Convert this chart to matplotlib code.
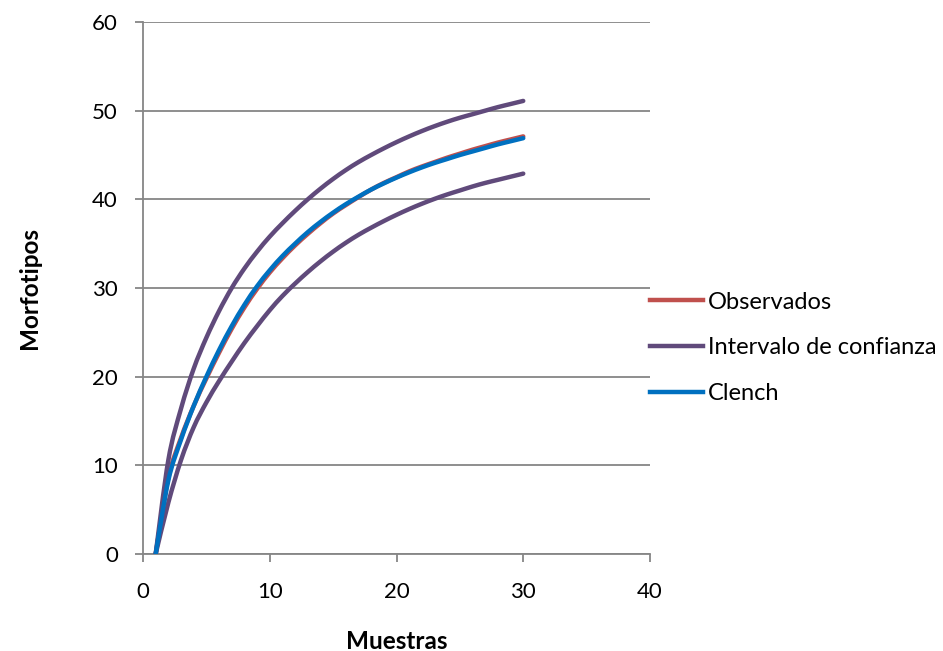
import matplotlib
matplotlib.use("Agg")
import matplotlib.pyplot as plt
from matplotlib.path import Path
from matplotlib.patches import PathPatch
from matplotlib.lines import Line2D

muestras = list(range(1, 31))
observados = [0, 8.6, 13.1, 16.7, 19.8, 22.7, 25.4, 27.8, 29.9, 31.75,
              33.35, 34.8, 36.1, 37.3, 38.4, 39.35, 40.25, 41.1, 41.85, 42.5,
              43.15, 43.7, 44.2, 44.7, 45.15, 45.6, 46.0, 46.4, 46.75, 47.1]
ic_superior = [0, 10.6, 16.4, 20.9, 24.4, 27.4, 30.0, 32.2, 34.1, 35.8,
               37.3, 38.7, 40.0, 41.2, 42.3, 43.3, 44.2, 45.0, 45.75, 46.45,
               47.1, 47.7, 48.25, 48.75, 49.2, 49.6, 50.0, 50.4, 50.75, 51.1]
ic_inferior = [0, 5.8, 10.6, 14.3, 17.1, 19.5, 21.7, 23.8, 25.7, 27.5,
               29.1, 30.5, 31.8, 33.0, 34.1, 35.1, 36.0, 36.8, 37.55, 38.25,
               38.9, 39.5, 40.05, 40.55, 41.0, 41.45, 41.85, 42.2, 42.55, 42.9]
clench = [0, 8.3, 12.9, 16.7, 20.0, 23.0, 25.7, 28.1, 30.2, 32.0,
          33.6, 35.0, 36.3, 37.45, 38.5, 39.45, 40.3, 41.1, 41.8, 42.45,
          43.05, 43.6, 44.1, 44.55, 45.0, 45.4, 45.8, 46.2, 46.55, 46.9]

plt.rcParams['font.family'] = ['Lato', 'DejaVu Sans']

fig = plt.figure(figsize=(9.43, 6.51), dpi=100)
ax = fig.add_axes([143/943, 1-554/651, (650-143)/943, (554-22)/651])

red = '#C0504D'
purple = '#604A7B'
blue = '#0070C0'
gray = '#868686'
lw = 3.2


def smooth_path(xs, ys):
    """Excel-style smoothed line: cubic Bezier through the data points."""
    pts = list(zip(xs, ys))
    n = len(pts)
    verts = [pts[0]]
    codes = [Path.MOVETO]
    for i in range(n - 1):
        p0 = pts[i - 1] if i > 0 else pts[i]
        p1 = pts[i]
        p2 = pts[i + 1]
        p3 = pts[i + 2] if i + 2 < n else pts[i + 1]
        c1 = (p1[0] + (p2[0] - p0[0]) / 6, p1[1] + (p2[1] - p0[1]) / 6)
        c2 = (p2[0] - (p3[0] - p1[0]) / 6, p2[1] - (p3[1] - p1[1]) / 6)
        verts += [c1, c2, p2]
        codes += [Path.CURVE4] * 3
    return Path(verts, codes)


def draw(ys, color, z):
    patch = PathPatch(smooth_path(muestras, ys), facecolor='none', edgecolor=color,
                      lw=lw, zorder=z, capstyle='round', joinstyle='round')
    ax.add_patch(patch)


draw(observados, red, 3)
draw(ic_superior, purple, 4)
draw(ic_inferior, purple, 4)
draw(clench, blue, 5)

ax.set_xlim(0, 40)
ax.set_ylim(0, 60)
ax.set_xticks([0, 10, 20, 30, 40])
ax.set_yticks([0, 10, 20, 30, 40, 50, 60])
ax.yaxis.grid(True, color=gray, lw=1.3)
ax.set_axisbelow(True)
for s in ['top', 'right']:
    ax.spines[s].set_visible(False)
for s in ['left', 'bottom']:
    ax.spines[s].set_color(gray)
    ax.spines[s].set_linewidth(1.3)
ax.tick_params(axis='both', colors=gray, length=6, width=1.3, labelsize=16,
               labelcolor='black')
ax.tick_params(axis='x', pad=14)
ax.tick_params(axis='y', pad=12)

ax.set_xlabel('Muestras', fontsize=17.5, fontweight='bold', labelpad=20)
ax.set_ylabel('Morfotipos', fontsize=17.5, fontweight='bold', labelpad=37)

handles = [Line2D([], [], color=red, lw=lw),
           Line2D([], [], color=purple, lw=lw),
           Line2D([], [], color=blue, lw=lw)]
labels = ['Observados', 'Intervalo de confianza', 'Clench']
leg = ax.legend(handles, labels, loc='center left', bbox_to_anchor=(650/943, 1-348/651),
                bbox_transform=fig.transFigure, frameon=False, fontsize=17,
                handlelength=2.25, handletextpad=0.2, borderpad=0,
                borderaxespad=0, labelspacing=1.05)

fig.savefig('out.png', dpi=100)
